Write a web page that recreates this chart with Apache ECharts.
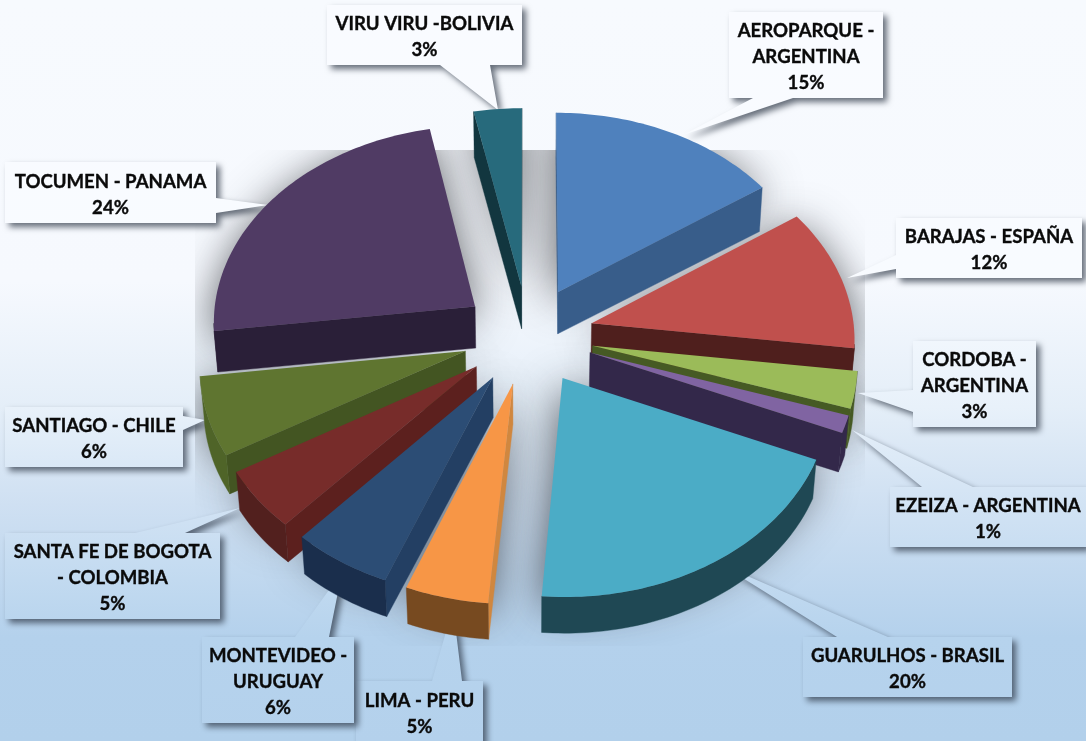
<!DOCTYPE html>
<html><head><meta charset="utf-8">
<style>html,body{margin:0;padding:0;width:1086px;height:741px;overflow:hidden}#c{width:1086px;height:741px}</style>
<script src="https://cdn.jsdelivr.net/npm/echarts@6/dist/echarts.min.js"></script>
</head><body><div id="c"></div>
<script>
// ---- data ----
const names = ['AEROPARQUE -\nARGENTINA','BARAJAS - ESPAÑA','CORDOBA -\nARGENTINA','EZEIZA - ARGENTINA','GUARULHOS - BRASIL','LIMA - PERU','MONTEVIDEO -\nURUGUAY','SANTA FE DE BOGOTA\n- COLOMBIA','SANTIAGO - CHILE','TOCUMEN - PANAMA','VIRU VIRU -BOLIVIA'];
const values = [15.4,11.6,3,1.4,19.9,4.7,5.7,4.9,6.4,23.8,3.2];
// ---- styles ----
const topColors  = ['#4F81BD','#C0504D','#9BBB59','#8064A2','#4BACC6','#F79646','#2C4D75','#772C2A','#5F7530','#503B64','#276A7C'];
const wallColors = ['#385D8A','#4F1F1D','#465A24','#33284A','#1F4854','#D0873F','#233F63','#5C201E','#435522','#2A1F38','#12363F'];
const rimColors  = ['#385D8A','#4F1F1D','#465A24','#33284A','#1F4854','#774A20','#1A2E4C','#52201E','#4F6428','#2A1F38','#12363F'];
// label boxes [x0,y0,x1,y1], wedge: side, base a, base b, tip
const boxes = [[729,12,883,98],[896,218,1082,278],[913,341,1036,427],[890,487,1086,547],[803,637,1012,697],[356,681,483,745],[202,637,354,723],[5,533,220,619],[5,407,183,467],[5,162,216,223],[327,5,522,65]];
const wedges = [['b',753,793,[683,135]],['l',255,269,[847,278]],['l',390,412,[858,393]],['t',922,973,[852,430]],['t',837,888,[722,565]],['t',432,462,[453,607]],['t',295,329,[342,572]],['t',135,185,[240,508]],['r',416,430,[205,420]],['r',198,213,[268,205]],['b',440,490,[498,110]]];
// ---- scene ----
const cx=528, cy=335, Ax=263, Ay=197.5, k=0.07, ex=0.25, W=1086, H=741;
const bgStops=[{offset:0,color:'#F7FAFE'},{offset:.38,color:'#F6F9FE'},{offset:.55,color:'#E4EEF8'},{offset:.68,color:'#CFE0F2'},{offset:.86,color:'#B4D1EC'},{offset:1,color:'#B2D0EB'}];
const boxStops=[{offset:0,color:'#F9FBFF'},{offset:.38,color:'#F8FBFF'},{offset:.55,color:'#E8F1FA'},{offset:.68,color:'#D2E3F4'},{offset:.86,color:'#B6D3ED'},{offset:1,color:'#B4D1EC'}];
const glob=(s)=>({type:'linear',x:0,y:0,x2:0,y2:H,global:true,colorStops:s});
const total=values.reduce((a,b)=>a+b,0);
let acc=0;
const spans=values.map(v=>{const a=acc/total*Math.PI*2;acc+=v;return [a,acc/total*Math.PI*2];});
const dir=t=>[Math.sin(t),-Math.cos(t)];
function top3(u,v){const p=1/(1-k*v);return [cx+Ax*u*p,cy+Ay*v*p];}
function bot3(u,v){const q=top3(u,v);return [cx+(q[0]-cx)*0.988,q[1]+41-4*v];}
function sliceGeom(i){
  const [a,b]=spans[i],m=(a+b)/2,d=dir(m),o=[ex*d[0],ex*d[1]];
  const n=Math.max(2,Math.ceil((b-a)/0.02));const rim=[];
  for(let j=0;j<=n;j++){const t=a+(b-a)*j/n,e=dir(t);rim.push({t,u:o[0]+e[0],v:o[1]+e[1],n:e});}
  return {a,b,o,rim,depth:o[1]+d[1]*0.5};
}
const geoms=values.map((_,i)=>sliceGeom(i));
const order=geoms.map((g,i)=>[g.depth,i]).sort((p,q)=>p[0]-q[0]).map(p=>p[1]);
const cam=[0,1/k];
const faces=(n,u,v)=>n[0]*(cam[0]-u)+n[1]*(cam[1]-v)>0;
function poly(points,style,z2){return {type:'polygon',shape:{points},style,z2:z2||0};}
function wallQuad(g,r,col,z){return poly([top3(g.o[0],g.o[1]),top3(r.u,r.v),bot3(r.u,r.v),bot3(g.o[0],g.o[1])],{fill:col,stroke:col,lineWidth:.4},z);}
function renderSlice(params,api){
  const i=params.dataIndex,g=geoms[i],rank=order.indexOf(i)*10;
  const ch=[];
  const ra=g.rim[0],rb=g.rim[g.rim.length-1];
  const na=[-Math.cos(g.a),-Math.sin(g.a)],nb=[Math.cos(g.b),Math.sin(g.b)];
  if(faces(na,g.o[0],g.o[1]))ch.push(wallQuad(g,ra,wallColors[i],rank));
  if(faces(nb,g.o[0],g.o[1]))ch.push(wallQuad(g,rb,wallColors[i],rank));
  const vis=g.rim.filter(r=>faces(r.n,r.u,r.v));
  if(vis.length>1){
    const pts=vis.map(r=>top3(r.u,r.v)).concat(vis.slice().reverse().map(r=>bot3(r.u,r.v)));
    ch.push(poly(pts,{fill:rimColors[i],stroke:rimColors[i],lineWidth:.4},rank+1));
  }
  const pts=[top3(g.o[0],g.o[1])].concat(g.rim.map(r=>top3(r.u,r.v)));
  ch.push(poly(pts,{fill:topColors[i]},rank+2));
  return {type:'group',children:ch};
}
function renderShadow(params,api){
  const i=params.dataIndex,g=geoms[i];
  const off=3000;
  const pts=[top3(g.o[0],g.o[1])].concat(g.rim.map(r=>top3(r.u,r.v))).map(p=>[p[0]-off,p[1]+10]);
  return poly(pts,{fill:'#000',shadowColor:'rgba(45,48,52,0.8)',shadowBlur:44,shadowOffsetX:off,shadowOffsetY:0});
}
function renderCover(params){
  const frame=[[0,0,W,150],[0,646,W,H-646],[0,150,195,496],[865,150,W-865,496]][params.dataIndex];
  return {type:'rect',shape:{x:frame[0],y:frame[1],width:frame[2],height:frame[3]},style:{fill:glob(bgStops)}};
}
function outline(i){
  const [x0,y0,x1,y1]=boxes[i],[s,a,b,tip]=wedges[i],p=[[x0,y0]];
  if(s==='t')p.push([Math.min(a,b),y0],tip,[Math.max(a,b),y0]);
  p.push([x1,y0]);
  if(s==='r')p.push([x1,Math.min(a,b)],tip,[x1,Math.max(a,b)]);
  p.push([x1,y1]);
  if(s==='b')p.push([Math.max(a,b),y1],tip,[Math.min(a,b),y1]);
  p.push([x0,y1]);
  if(s==='l')p.push([x0,Math.max(a,b)],tip,[x0,Math.min(a,b)]);
  return p;
}
function renderCallout(params){
  const i=params.dataIndex;
  return poly(outline(i),{fill:glob(boxStops),shadowColor:'rgba(40,50,65,0.7)',shadowBlur:6,shadowOffsetX:4,shadowOffsetY:4});
}
function renderText(params,api){
  const i=params.dataIndex,b=boxes[i];
  const yc=(i===5?712:i===9?193:(b[1]+b[3])/2)+1.7;
  return {type:'text',style:{text:names[i]+'\n'+Math.round(api.value(0))+'%',x:(b[0]+b[2])/2,y:yc,align:'center',verticalAlign:'middle',fontFamily:'Lato',fontWeight:'bold',fontSize:18.6,lineHeight:26,fill:'#0A0A0A',stroke:'#0A0A0A',lineWidth:.35}};
}
const seriesData=values.map(v=>[v]);
const custom=(z,renderItem,data)=>({type:'custom',coordinateSystem:'none',silent:true,animation:false,clip:false,z,renderItem,data:data||seriesData});
echarts.init(document.getElementById('c'),null,{renderer:'canvas'}).setOption({
  animation:false,
  backgroundColor:glob(bgStops),
  series:[
    custom(1,renderShadow),
    custom(2,renderCover,[[0],[1],[2],[3]]),
    custom(3,renderCallout),
    custom(4,renderSlice),
    custom(5,renderText)
  ]
});
</script></body></html>
